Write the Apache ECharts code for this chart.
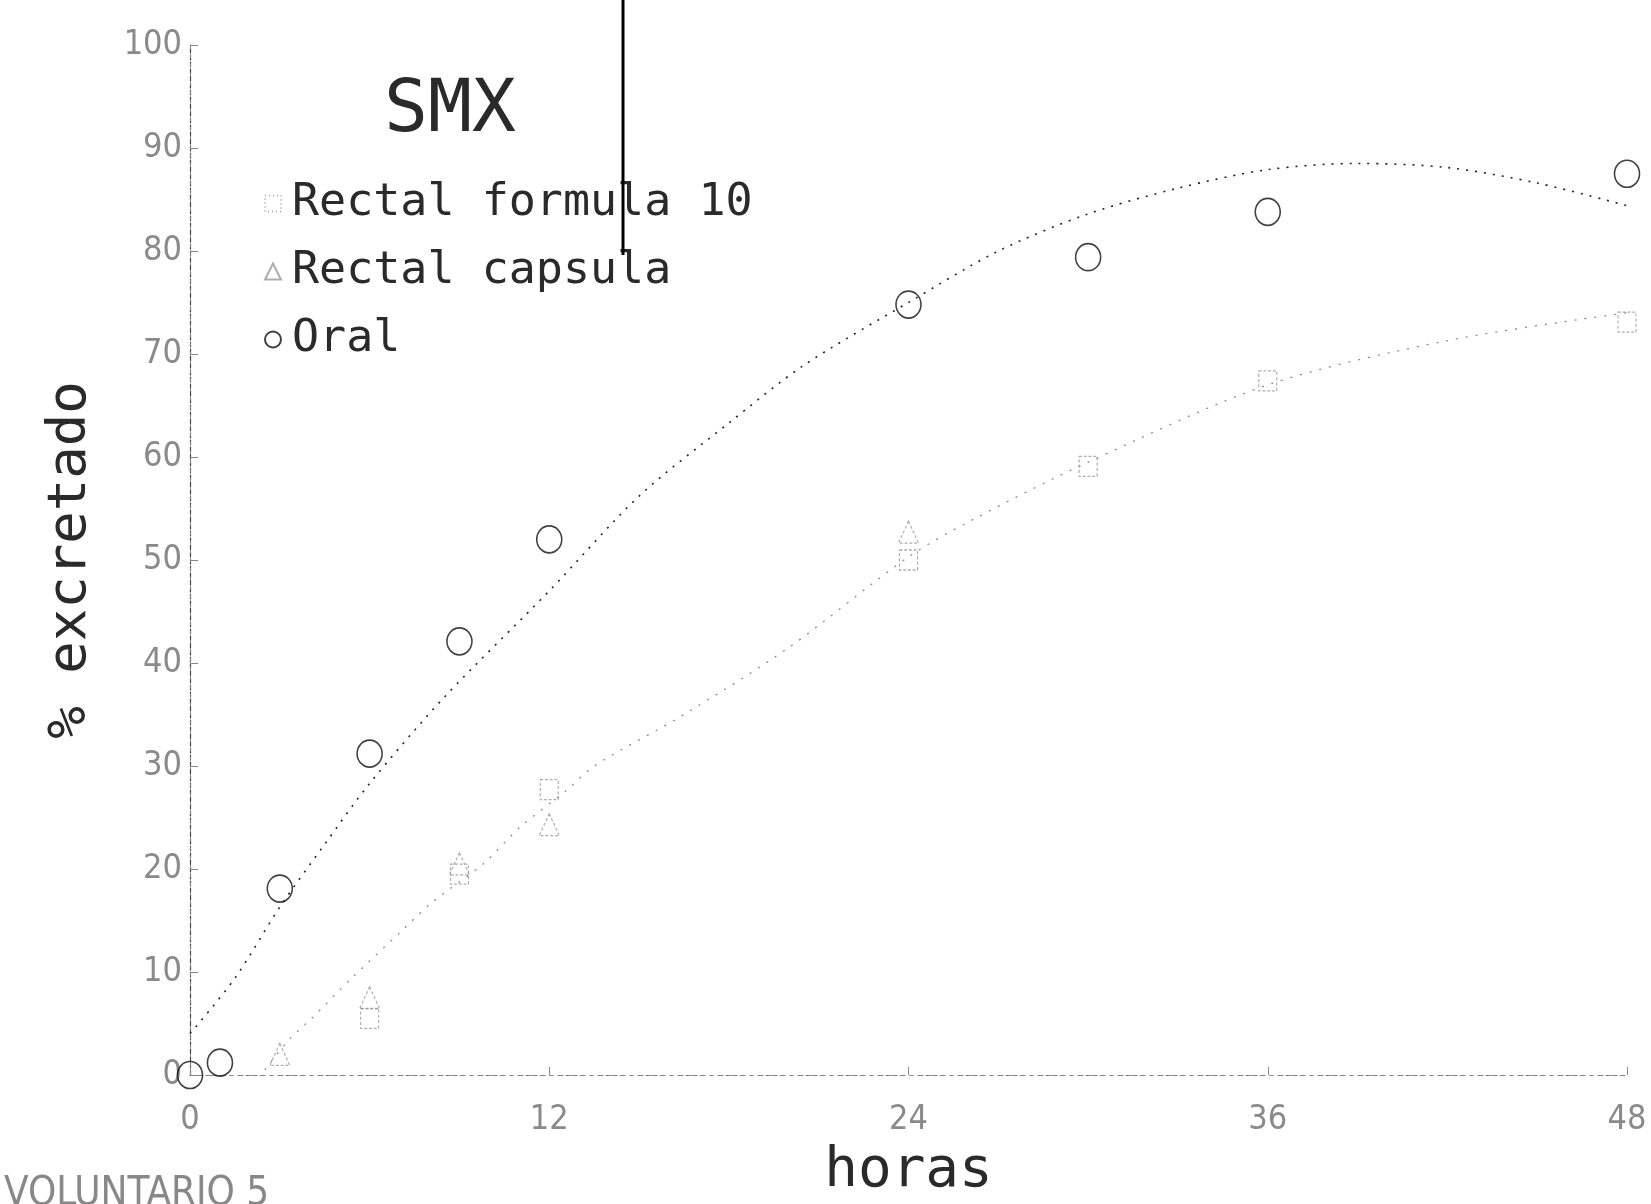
<!DOCTYPE html>
<html>
<head>
<meta charset="utf-8">
<script src="https://cdn.jsdelivr.net/npm/echarts@6/dist/echarts.min.js"></script>
<style>
html,body{margin:0;padding:0;background:#fff;}
#chart{width:1651px;height:1204px;}
</style>
</head>
<body>
<div id="chart"></div>
<script>
// ---- data ----
var xTicks = [0, 12, 24, 36, 48];
var yTicks = [0, 10, 20, 30, 40, 50, 60, 70, 80, 90, 100];

var oralHours = [0, 1, 3, 6, 9, 12, 24, 30, 36, 48];
var oralValues = [0, 1.2, 18.1, 31.2, 42.1, 52.0, 74.8, 79.4, 83.8, 87.5];

var f10Hours = [6, 9, 12, 24, 30, 36, 48];
var f10Values = [5.5, 19.5, 27.7, 50.0, 59.1, 67.4, 73.1];

var capHours = [3, 6, 9, 12, 24];
var capValues = [2.0, 7.5, 20.5, 24.3, 52.7];

var oralFitHours = [0, 1.5, 3, 4.5, 6, 8.5, 12, 15, 18, 20.5, 24, 27, 30, 33, 36, 39, 42, 45, 48];
var oralFitValues = [4.0, 9.4, 16.3, 22.4, 28.3, 36.7, 47.0, 56.2, 63.3, 68.9, 75.0, 80.0, 83.6, 86.1, 87.9, 88.5, 88.1, 86.6, 84.4];

var rectFitHours = [2.5, 3.3, 4.1, 5.4, 7, 8.1, 9.8, 11, 12.6, 13.5, 16.5, 20, 24, 26.2, 30, 36, 42, 48];
var rectFitValues = [0.5, 3.4, 5.6, 9.4, 13.8, 16.8, 20.5, 24.0, 27.7, 30.0, 35.0, 41.5, 50.3, 54.0, 59.5, 67.0, 71.3, 74.0];

var seriesNames = ['Rectal formula 10', 'Rectal capsula', 'Oral'];
var titleText = 'SMX';
var xName = 'horas';
var yName = '% excretado';
var footText = 'VOLUNTARIO 5';

function pairs(xs, ys) { return xs.map(function (x, i) { return [x, ys[i]]; }); }

var mono = "'DejaVu Sans Mono', monospace";
var narrow = "'DejaVu Sans Condensed', sans-serif";

var chart = echarts.init(document.getElementById('chart'), null, {renderer: 'canvas'});
var option = {
  backgroundColor: '#ffffff',
  animation: false,
  grid: {left: 190, top: 45, right: 24, bottom: 119, containLabel: false},
  legend: {
    data: [
      {name: seriesNames[0], itemStyle: {borderType: [1, 3]}},
      {name: seriesNames[1]},
      {name: seriesNames[2]}
    ],
    orient: 'vertical',
    left: 259,
    top: 176,
    itemWidth: 16,
    itemHeight: 16,
    itemGap: 23,
    textStyle: {fontFamily: mono, fontSize: 45, color: '#2a2a2a', padding: [0, 0, 0, 6]}
  },
  xAxis: [{
    type: 'value', min: 0, max: 48, interval: 12,
    name: xName, nameLocation: 'middle', nameGap: 68,
    nameTextStyle: {fontFamily: mono, fontSize: 56, color: '#2a2a2a'},
    axisLine: {show: true, lineStyle: {color: '#777', width: 1, type: [3, 5]}},
    axisTick: {show: true, inside: true, length: 8, lineStyle: {color: '#888'}},
    axisLabel: {margin: 28, fontFamily: narrow, fontSize: 34, color: '#8a8a8a',
      formatter: function (v) { return xTicks.indexOf(v) >= 0 ? String(v) : ''; }},
    splitLine: {show: false}
  }, {
    type: 'value', min: 0, max: 48, interval: 12, position: 'top',
    axisLine: {show: true, lineStyle: {color: '#888', width: 1, type: [3, 7]}},
    axisTick: {show: false}, axisLabel: {show: false}, splitLine: {show: false}
  }],
  yAxis: [{
    type: 'value', min: 0, max: 100, interval: 10,
    name: yName, nameLocation: 'middle', nameGap: 92,
    nameTextStyle: {fontFamily: mono, fontSize: 54, color: '#2a2a2a'},
    axisLine: {show: true, lineStyle: {color: '#444', width: 1.2, type: [5, 2]}},
    axisTick: {show: true, inside: true, length: 8, lineStyle: {color: '#888'}},
    axisLabel: {margin: 8, fontFamily: narrow, fontSize: 34, color: '#8a8a8a',
      formatter: function (v) { return yTicks.indexOf(v) >= 0 ? String(v) : ''; }},
    splitLine: {show: false}
  }, {
    type: 'value', min: 0, max: 100, interval: 10, position: 'right',
    axisLine: {show: true, lineStyle: {color: '#888', width: 1, type: [3, 6]}},
    axisTick: {show: false}, axisLabel: {show: false}, splitLine: {show: false}
  }],
  series: [
    {
      name: 'oral fit', type: 'line', smooth: 0.3, showSymbol: false, symbol: 'none',
      data: pairs(oralFitHours, oralFitValues),
      lineStyle: {color: '#222', width: 1.6, type: [2, 7]}, z: 2, silent: true
    },
    {
      name: 'rectal fit', type: 'line', smooth: 0.3, showSymbol: false, symbol: 'none',
      data: pairs(rectFitHours, rectFitValues),
      lineStyle: {color: '#8c8c8c', width: 1.3, type: [2, 8]}, z: 2, silent: true
    },
    {
      name: seriesNames[0], type: 'scatter', symbol: 'rect', symbolSize: [18, 20], clip: false,
      data: pairs(f10Hours, f10Values),
      itemStyle: {color: 'rgba(0,0,0,0)', borderColor: '#999', borderWidth: 1.2, borderType: [3, 2]}, z: 3
    },
    {
      name: seriesNames[1], type: 'scatter', symbol: 'triangle', symbolSize: [20, 22], clip: false,
      data: pairs(capHours, capValues),
      itemStyle: {color: 'rgba(0,0,0,0)', borderColor: '#999', borderWidth: 1.2, borderType: [3, 2]}, z: 3
    },
    {
      name: seriesNames[2], type: 'scatter', symbol: 'circle', symbolSize: [25, 27], clip: false,
      data: pairs(oralHours, oralValues),
      itemStyle: {color: 'rgba(0,0,0,0)', borderColor: '#111', borderWidth: 1.6}, z: 4
    }
  ],
  graphic: [
    {type: 'text', left: 384, top: 76, z: 10,
      style: {text: titleText, font: "73px 'DejaVu Sans Mono', monospace", fill: '#2a2a2a'}},
    {type: 'text', left: 4, top: 1175, z: 10,
      style: {text: footText, font: "40px 'DejaVu Sans Condensed', sans-serif", fill: '#888'}},
    {type: 'line', z: 10,
      shape: {x1: 623, y1: 0, x2: 623, y2: 255},
      style: {stroke: '#000', lineWidth: 3}}
  ]
};
chart.setOption(option);
</script>
</body>
</html>
